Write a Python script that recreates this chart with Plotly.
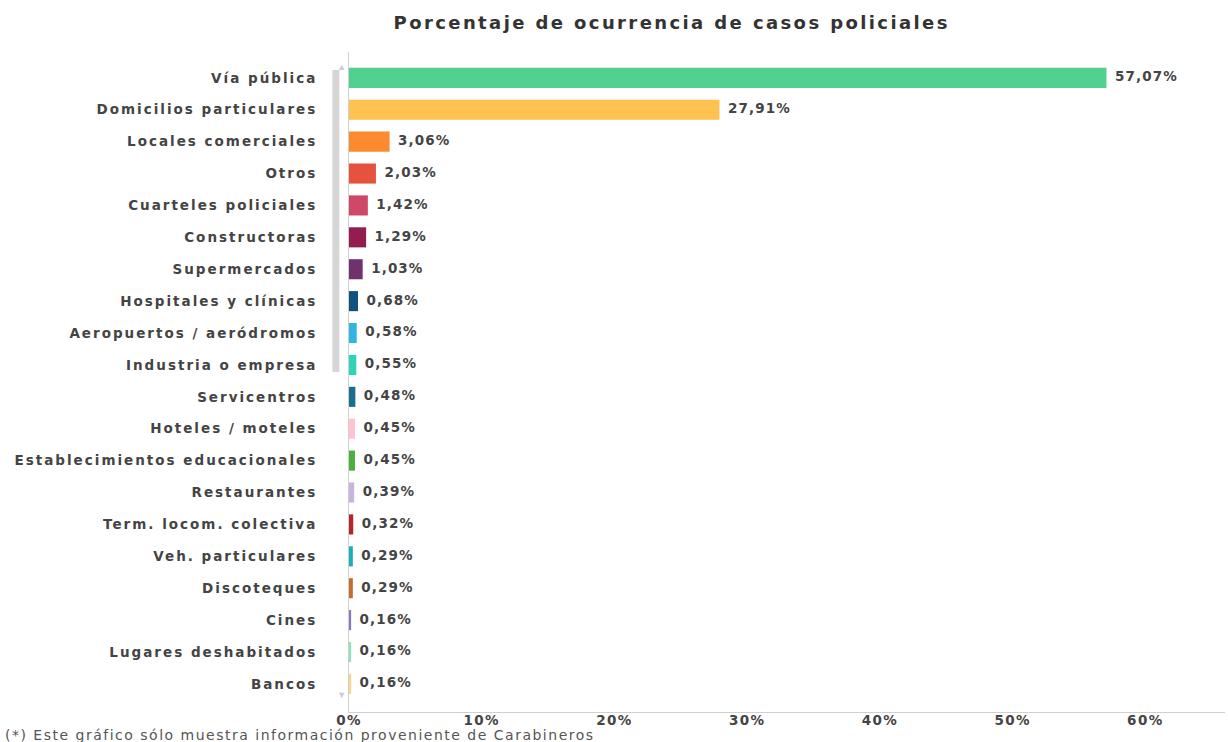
import plotly.graph_objects as go

categories = ["Vía pública", "Domicilios particulares", "Locales comerciales", "Otros",
              "Cuarteles policiales", "Constructoras", "Supermercados", "Hospitales y clínicas",
              "Aeropuertos / aeródromos", "Industria o empresa", "Servicentros", "Hoteles / moteles",
              "Establecimientos educacionales", "Restaurantes", "Term. locom. colectiva",
              "Veh. particulares", "Discoteques", "Cines", "Lugares deshabitados", "Bancos"]
values = [57.07, 27.91, 3.06, 2.03, 1.42, 1.29, 1.03, 0.68, 0.58, 0.55, 0.48, 0.45, 0.45,
          0.39, 0.32, 0.29, 0.29, 0.16, 0.16, 0.16]
colors = ["#50d18f", "#ffc14f", "#fb8b2e", "#e5533f", "#cf4868", "#931c50", "#70326e",
          "#12507e", "#2fb5df", "#2dd4b8", "#1a6e91", "#ffc3cf", "#4caf3f", "#c9b4df",
          "#b5252c", "#17b0b8", "#c56d2c", "#8a76c0", "#8ee3bb", "#ffd685"]
tick_vals = [0, 10, 20, 30, 40, 50, 60]
tick_text = ["0%", "10%", "20%", "30%", "40%", "50%", "60%"]

labels = [f"{v:.2f}".replace(".", ",") + "%" for v in values]

FONT = "DejaVu Sans"

fig = go.Figure()
fig.add_trace(go.Bar(
    x=values, y=categories, orientation="h",
    marker=dict(color=colors, line=dict(width=0)),
    hoverinfo="skip",
))
fig.add_trace(go.Scatter(
    x=values, y=categories, mode="markers+text", text=labels,
    textposition="middle right", cliponaxis=False,
    marker=dict(size=12, opacity=0),
    textfont=dict(family=FONT, size=13.5, color="#444", weight="bold"),
    hoverinfo="skip",
))

fig.update_layout(
    width=1228, height=742,
    margin=dict(l=349, r=3, t=52, b=30),
    paper_bgcolor="white", plot_bgcolor="white",
    showlegend=False, bargap=0.37,
    title=dict(text="<b>Porcentaje de ocurrencia de casos policiales</b>",
               x=0.547, xanchor="center", y=0.97, yanchor="middle",
               font=dict(family=FONT, size=18, color="#333")),
    xaxis=dict(range=[0, 66], tickvals=tick_vals, ticktext=tick_text, showgrid=False,
               zeroline=False, showline=True, linecolor="#d0d0d0", linewidth=1,
               tickfont=dict(family=FONT, size=13.5, color="#444", weight="bold"),
               ticks="", ticklabelstandoff=-4, fixedrange=True),
    yaxis=dict(categoryorder="array", categoryarray=categories, range=[19.88, -0.81],
               showgrid=False, zeroline=False, showline=True, linecolor="#d0d0d0",
               linewidth=1, ticks="", ticklabelstandoff=28,
               tickfont=dict(family=FONT, size=13.5, color="#444", weight="bold"),
               fixedrange=True),
)

# scrollbar decoration
fig.add_shape(type="rect", xref="paper", yref="paper", x0=-0.019, x1=-0.011,
              y0=(712 - 372) / 660, y1=(712 - 70) / 660,
              fillcolor="#d6d6d6", line=dict(width=0), layer="above")
fig.add_annotation(text="▲", xref="paper", yref="paper", x=-0.015, y=(712 - 58) / 660,
                   showarrow=False, font=dict(size=9, color="#cccccc"))
fig.add_annotation(text="▼", xref="paper", yref="paper", x=-0.015, y=(712 - 703) / 660,
                   showarrow=False, font=dict(size=9, color="#cccccc"))

fig.add_annotation(text="(*) Este gráfico sólo muestra información proveniente de Carabineros",
                   xref="paper", yref="paper", x=-49 / 876, xanchor="center",
                   y=-(735 - 712) / 660, yanchor="middle", showarrow=False,
                   font=dict(family=FONT, size=14, color="#555"))

post = """
document.body.style.margin='0';
var gd=document.getElementById('{plot_id}');
function sp(sel, v){gd.querySelectorAll(sel).forEach(function(t){t.style.letterSpacing=v;});}
sp('.ytick text','2.0px'); sp('.xtick text','1.4px'); sp('.textpoint text','1.1px');
sp('.gtitle','2.4px'); sp('.annotation-text','1.5px');
"""
fig.write_html("out.html", post_script=post, config={"displayModeBar": False})
